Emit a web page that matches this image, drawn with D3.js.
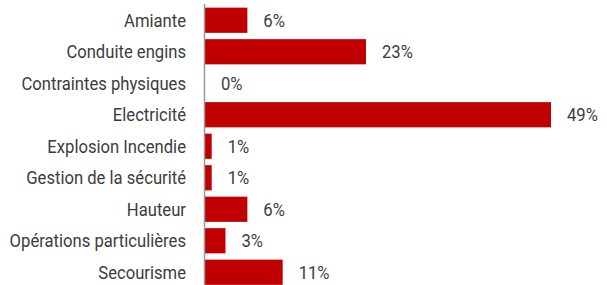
<!DOCTYPE html>
<html>
<head>
<meta charset="utf-8">
<script src="https://cdn.jsdelivr.net/npm/d3@7"></script>
<style>
  body { margin: 0; background: #fff; }
  svg { display: block; font-family: Roboto, sans-serif; }
</style>
</head>
<body>
<script>
var categories = ['Amiante', 'Conduite engins', 'Contraintes physiques', 'Electricité',
                  'Explosion Incendie', 'Gestion de la sécurité', 'Hauteur',
                  'Opérations particulières', 'Secourisme'];
var values = [6, 22.8, 0, 49, 0.95, 0.95, 6, 2.9, 11];
var labels = ['6%', '23%', '0%', '49%', '1%', '1%', '6%', '3%', '11%'];

var W = 607, H = 285;

var svg = d3.select('body').append('svg')
    .attr('width', W)
    .attr('height', H);

var x = d3.scaleLinear().domain([0, 49]).range([205, 551]);
var y = d3.scaleBand().domain(categories).range([4.5, 288]).paddingInner(0.2).paddingOuter(0.1);

svg.selectAll('rect.bar')
    .data(categories)
    .enter().append('rect')
    .attr('class', 'bar')
    .attr('x', x(0))
    .attr('y', function(d) { return y(d); })
    .attr('width', function(d, i) { return x(values[i]) - x(0); })
    .attr('height', y.bandwidth())
    .attr('fill', '#c00000');

svg.append('path')
    .attr('d', 'M' + [204.5, 4] + ' L' + [204.5, H])
    .attr('stroke', '#999')
    .attr('stroke-width', 1.5);

var sq = ' scale(0.9,1)';

svg.selectAll('text.cat')
    .data(categories)
    .enter().append('text')
    .attr('class', 'cat')
    .attr('transform', function(d) { return 'translate(' + [186, y(d) + y.bandwidth() / 2] + ')' + sq; })
    .attr('text-anchor', 'end')
    .attr('dy', '0.36em')
    .style('font-size', '18.5px')
    .attr('fill', '#3c3c3c')
    .text(function(d) { return d; });

svg.selectAll('text.val')
    .data(categories)
    .enter().append('text')
    .attr('class', 'val')
    .attr('transform', function(d, i) { return 'translate(' + [x(values[i]) + 16, y(d) + y.bandwidth() / 2] + ')' + sq; })
    .attr('text-anchor', 'start')
    .attr('dy', '0.36em')
    .style('font-size', '18.5px')
    .attr('fill', '#3c3c3c')
    .text(function(d, i) { return labels[i]; });
</script>
</body>
</html>
